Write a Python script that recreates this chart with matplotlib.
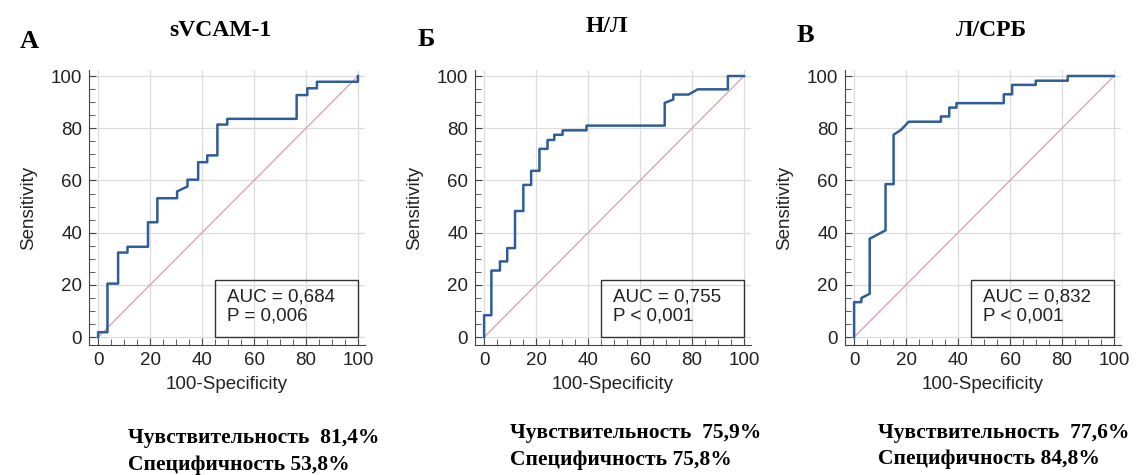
import matplotlib
matplotlib.use("Agg")
import matplotlib.pyplot as plt
from matplotlib.patches import Rectangle
from matplotlib.ticker import MultipleLocator

plt.rcParams['font.family'] = ['Liberation Sans', 'DejaVu Sans']

# ROC curves (100-Specificity, Sensitivity)
fpr_a = [0, 0, 3.6, 3.6, 7.7, 7.7, 11.3, 11.3, 19.2, 19.2, 22.8, 22.8, 30.4, 30.4, 34.4, 34.4,
         38.5, 38.5, 42.0, 42.0, 45.9, 45.9, 49.7, 49.7, 76.4, 76.4, 80.5, 80.5, 84.2, 84.2, 100, 100]
tpr_a = [0, 1.9, 1.9, 20.5, 20.5, 32.4, 32.4, 34.6, 34.6, 44.0, 44.0, 53.2, 53.2, 55.8, 57.7, 60.3,
         60.3, 67.0, 67.0, 69.6, 69.6, 81.4, 81.4, 83.6, 83.6, 92.7, 92.7, 95.3, 95.3, 97.8, 97.8, 100]

fpr_b = [0, 0, 2.8, 2.8, 6.1, 6.1, 8.9, 8.9, 11.9, 11.9, 15.1, 15.1, 18.1, 18.1, 21.3, 21.3,
         24.4, 24.4, 27.0, 27.0, 30.2, 30.2, 39.4, 39.4, 69.5, 69.5, 72.8, 72.8, 78.7, 82.2,
         93.8, 93.8, 100]
tpr_b = [0, 8.4, 8.4, 25.5, 25.5, 29.0, 29.0, 34.1, 34.1, 48.3, 48.3, 58.3, 58.3, 63.7, 63.7, 72.1,
         72.1, 75.5, 75.5, 77.5, 77.5, 79.2, 79.2, 81.0, 81.0, 89.7, 91.0, 92.9, 92.9, 94.9,
         94.9, 100, 100]

fpr_c = [0, 0, 2.8, 2.8, 6.0, 6.0, 12.1, 12.1, 15.2, 15.2, 18.1, 21.0, 33.4, 33.4, 36.6, 36.6,
         39.4, 39.4, 57.6, 57.6, 60.8, 60.8, 69.9, 69.9, 82.2, 82.2, 100]
tpr_c = [0, 13.4, 13.4, 15.0, 16.6, 37.7, 40.9, 58.6, 58.6, 77.5, 79.4, 82.5, 82.5, 84.5, 84.5, 87.9,
         87.9, 89.6, 89.6, 93.0, 93.0, 96.6, 96.6, 98.2, 98.2, 100, 100]

letters = ['А', 'Б', 'В']
titles = ['sVCAM-1', 'Н/Л', 'Л/СРБ']
auc_txt = ['AUC = 0,684\nP = 0,006', 'AUC = 0,755\nP < 0,001', 'AUC = 0,832\nP < 0,001']
sens_txt = ['Чувствительность  81,4%', 'Чувствительность  75,9%', 'Чувствительность  77,6%']
spec_txt = ['Специфичность 53,8%', 'Специфичность 75,8%', 'Специфичность 84,8%']
curves = [(fpr_a, tpr_a), (fpr_b, tpr_b), (fpr_c, tpr_c)]

W, H = 1140, 475
fig = plt.figure(figsize=(W / 100, H / 100), dpi=100)

ax_left = [89, 475, 845]
letter_pos = [(20, 41), (418, 39), (797, 36)]
title_pos = [(220, 30), (607, 27), (991, 30)]
text_pos = [(128, 438, 465), (510, 433, 460), (878, 433, 459)]

serif = ['Liberation Serif', 'DejaVu Serif']
fs = 13.5

for i in range(3):
    ax = fig.add_axes([ax_left[i] / W, 1 - 345 / H, 276 / W, 275 / H])
    fx, ty = curves[i]
    ax.plot([0, 100], [0, 100], color='#d8a0a6', lw=0.9, zorder=2)
    ax.plot(fx, ty, color='#2e5d97', lw=1.8, zorder=3)
    ax.set_xlim(-3.5, 102.7)
    ax.set_ylim(-3, 102.3)
    ax.xaxis.set_major_locator(MultipleLocator(20))
    ax.yaxis.set_major_locator(MultipleLocator(20))
    ax.xaxis.set_minor_locator(MultipleLocator(5))
    ax.yaxis.set_minor_locator(MultipleLocator(5))
    ax.grid(True, which='major', color='#dcdcdc', lw=0.9)
    ax.set_axisbelow(True)
    for s in ['top', 'right']:
        ax.spines[s].set_visible(False)
    for s in ['left', 'bottom']:
        ax.spines[s].set_color('#444444')
    ax.tick_params(which='both', direction='in', colors='#444444', labelcolor='#222222')
    ax.tick_params(which='major', length=5, labelsize=fs, pad=5)
    ax.tick_params(which='minor', length=4)
    ax.set_xlabel('100-Specificity', fontsize=fs, labelpad=5, color='#222222')
    ax.set_ylabel('Sensitivity', fontsize=fs, labelpad=10, color='#222222')

    ax.add_patch(Rectangle((0.457, 0.0285), 0.518, 0.209, transform=ax.transAxes,
                           fill=False, edgecolor='#333333', lw=1.0, zorder=4))
    ax.text(0.5, 0.14, auc_txt[i], transform=ax.transAxes, fontsize=fs,
            va='center', ha='left', linespacing=1.2, color='#222222', zorder=5)

    fig.text(letter_pos[i][0] / W, 1 - letter_pos[i][1] / H, letters[i], family=serif,
             fontweight='bold', fontsize=19, ha='left', va='center')
    fig.text(title_pos[i][0] / W, 1 - title_pos[i][1] / H, titles[i], family=serif,
             fontweight='bold', fontsize=17, ha='center', va='center')
    tx, y1, y2 = text_pos[i]
    fig.text(tx / W, 1 - y1 / H, sens_txt[i], family=serif, fontweight='bold',
             fontsize=15.5, ha='left', va='center')
    fig.text(tx / W, 1 - y2 / H, spec_txt[i], family=serif, fontweight='bold',
             fontsize=15.5, ha='left', va='center')

fig.savefig('out.png', dpi=100)
